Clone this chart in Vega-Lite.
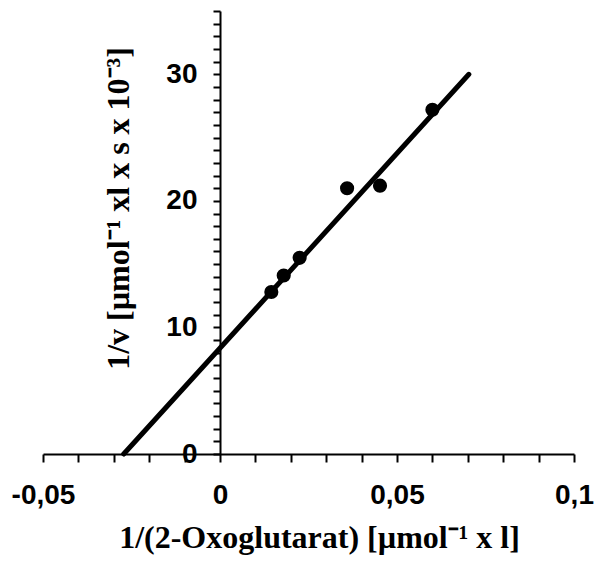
{
  "$schema": "https://vega.github.io/schema/vega-lite/v6.json",
  "width": 531,
  "height": 443,
  "autosize": {"type": "none"},
  "padding": {"left": 43, "top": 11, "right": 20, "bottom": 107},
  "background": "white",
  "config": {"view": {"stroke": null}},
  "datasets": {
    "fit": [
      {"x": -0.0272, "y": 0},
      {"x": 0.0703, "y": 30}
    ],
    "points": [
      {"x": 0.0145, "y": 12.8},
      {"x": 0.018, "y": 14.1},
      {"x": 0.0225, "y": 15.5},
      {"x": 0.0359, "y": 21.0},
      {"x": 0.0452, "y": 21.2},
      {"x": 0.06, "y": 27.2}
    ]
  },
  "encoding": {
    "x": {
      "field": "x",
      "type": "quantitative",
      "scale": {"domain": [-0.05, 0.1], "nice": false, "zero": false},
      "axis": {
        "title": "1/(2-Oxoglutarat) [µmol⁻¹ x l]",
        "values": [-0.05, -0.04, -0.03, -0.02, -0.01, 0, 0.01, 0.02, 0.03, 0.04, 0.05, 0.06, 0.07, 0.08, 0.09, 0.1],
        "labelExpr": "(abs(round(datum.value*100)) % 5 == 0) ? replace(toString(datum.value), '.', ',') : ''",
        "labelFont": "Liberation Sans",
        "labelFontWeight": "bold",
        "labelFontSize": 28,
        "labelColor": "black",
        "labelPadding": 19,
        "labelFlush": false,
        "labelOverlap": false,
        "tickSize": 8,
        "tickWidth": 2,
        "tickColor": "black",
        "domainColor": "black",
        "domainWidth": 2,
        "grid": false,
        "titleFont": "Liberation Serif",
        "titleFontSize": 32,
        "titleFontWeight": "bold",
        "titleColor": "black",
        "titleX": 276,
        "titleY": 93,
        "titleBaseline": "alphabetic",
        "titleAlign": "center"
      }
    },
    "y": {
      "field": "y",
      "type": "quantitative",
      "scale": {"domain": [0, 35], "nice": false, "zero": false},
      "axis": {
        "title": "1/v [µmol⁻¹ xl x s x 10⁻³]",
        "values": [0, 1, 2, 3, 4, 5, 6, 7, 8, 9, 10, 11, 12, 13, 14, 15, 16, 17, 18, 19, 20, 21, 22, 23, 24, 25, 26, 27, 28, 29, 30, 31, 32, 33, 34, 35],
        "labelExpr": "datum.value % 10 == 0 ? toString(datum.value) : ''",
        "offset": -177,
        "labelFont": "Liberation Sans",
        "labelFontWeight": "bold",
        "labelFontSize": 28,
        "labelColor": "black",
        "labelPadding": 16,
        "labelOverlap": false,
        "labelFlush": false,
        "tickSize": 7,
        "tickWidth": 2,
        "tickColor": "black",
        "domainColor": "black",
        "domainWidth": 2,
        "grid": false,
        "titleFont": "Liberation Serif",
        "titleFontSize": 32,
        "titleFontWeight": "bold",
        "titleColor": "black",
        "titleX": -92,
        "titleY": 197,
        "titleAngle": 270,
        "titleBaseline": "alphabetic",
        "titleAlign": "center"
      }
    }
  },
  "layer": [
    {
      "data": {"name": "fit"},
      "mark": {"type": "line", "color": "black", "strokeWidth": 5, "strokeCap": "round", "clip": false}
    },
    {
      "data": {"name": "points"},
      "mark": {"type": "point", "shape": "circle", "filled": true, "color": "black", "size": 200, "opacity": 1}
    }
  ]
}
